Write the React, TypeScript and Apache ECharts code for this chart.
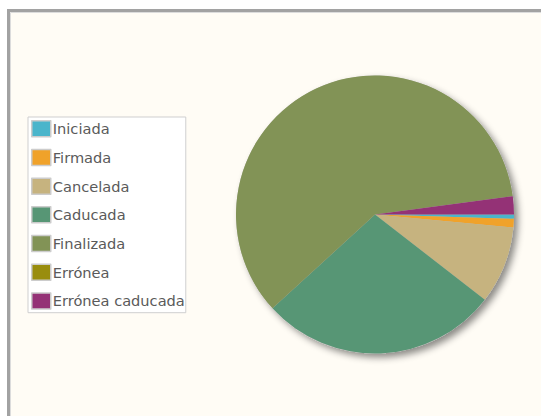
import React, { useEffect, useRef } from "react";
import * as echarts from "echarts";

const categories = ["Iniciada", "Firmada", "Cancelada", "Caducada", "Finalizada", "Errónea", "Errónea caducada"];
const values = [5, 10, 90, 277, 597, 0, 21];
const colors = ["#4ab5cb", "#f0a22a", "#c6b37f", "#579675", "#829356", "#998d0e", "#943276"];

export default function App() {
  const ref = useRef<HTMLDivElement>(null);
  useEffect(() => {
    if (!ref.current) return;
    const chart = echarts.init(ref.current, null, { renderer: "svg" });
    chart.setOption({
      animation: false,
      backgroundColor: "#ffffff",
      color: colors,
      graphic: [
        { type: "rect", z: -10, silent: true, shape: { x: 7, y: 9, width: 600, height: 500 }, style: { fill: "#fffcf5" } },
        { type: "rect", z: -9, silent: true, shape: { x: 8.5, y: 10.5, width: 600, height: 500 }, style: { fill: "none", stroke: "#a2a2a2", lineWidth: 3 } },
        { type: "rect", z: -9, silent: true, shape: { x: 10.5, y: 12.5, width: 600, height: 500 }, style: { fill: "none", stroke: "#dcdcdc", lineWidth: 1 } },
      ],
      legend: {
        orient: "vertical",
        left: 28,
        top: 117,
        padding: [3, 1, 3, 3],
        itemGap: 11.2,
        itemWidth: 19,
        itemHeight: 16,
        icon: "rect",
        selectedMode: false,
        backgroundColor: "#ffffff",
        borderColor: "#cfcfcf",
        borderWidth: 1,
        itemStyle: { borderColor: "#cccccc", borderWidth: 1.5 },
        textStyle: { fontFamily: "DejaVu Sans", fontSize: 14.6, lineHeight: 17, color: "#5a5a5a", padding: [0, 0, 0, -3] },
        data: categories,
      },
      series: [
        {
          type: "pie",
          center: [375, 214.5],
          radius: 139,
          silent: true,
          z: 1,
          label: { show: false },
          labelLine: { show: false },
          itemStyle: { color: "#bbbbbb", shadowBlur: 7, shadowColor: "rgba(0,0,0,0.45)", shadowOffsetX: 4, shadowOffsetY: 4 },
          data: [{ value: 1, name: "__shadow" }],
          tooltip: { show: false },
        },
        {
          type: "pie",
          center: [375, 214.5],
          radius: 139,
          z: 2,
          startAngle: 0,
          clockwise: true,
          avoidLabelOverlap: false,
          label: { show: false },
          labelLine: { show: false },
          emphasis: { disabled: true },
          itemStyle: { borderWidth: 0 },
          data: categories.map((c, i) => ({ name: c, value: values[i] })),
        },
      ],
    });
    return () => chart.dispose();
  }, []);
  return <div ref={ref} style={{ position: "absolute", left: 0, top: 0, width: 541, height: 416 }} />;
}
